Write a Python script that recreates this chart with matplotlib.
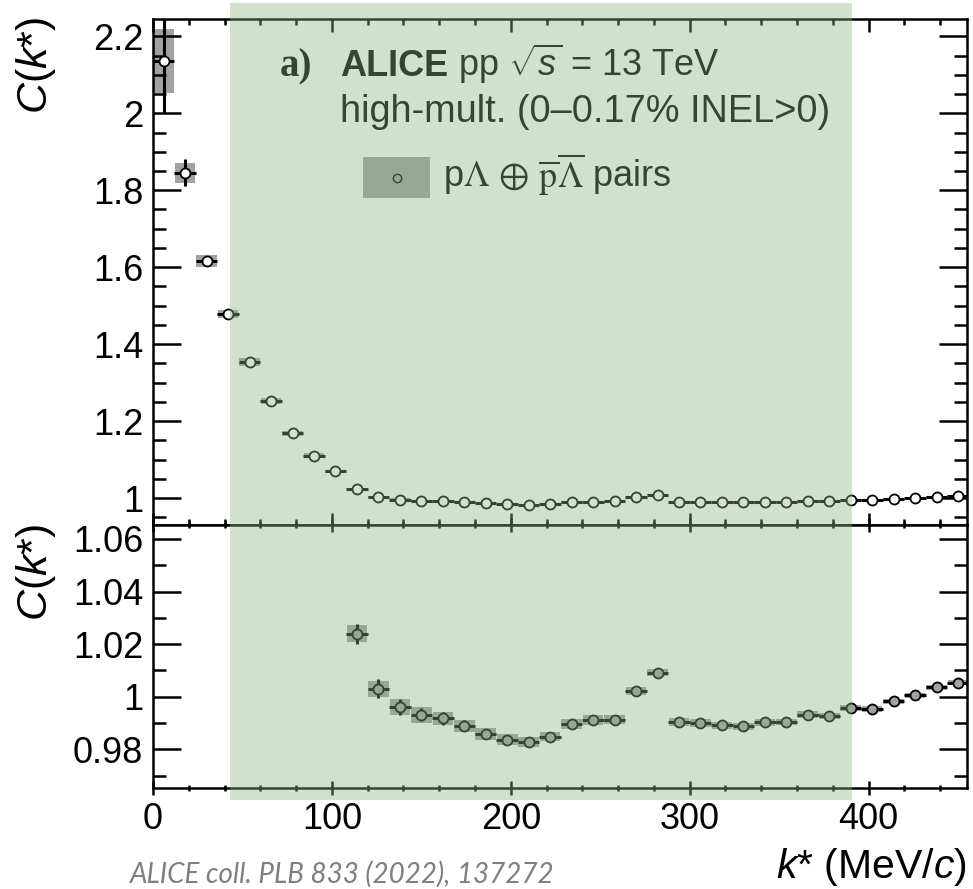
import numpy as np
import matplotlib
matplotlib.use("Agg")
import matplotlib.pyplot as plt
from matplotlib.patches import Rectangle
from matplotlib.lines import Line2D
from matplotlib.ticker import MultipleLocator, FuncFormatter

plt.rcParams['font.family'] = ['Liberation Sans', 'DejaVu Sans']
plt.rcParams['mathtext.fontset'] = 'custom'
plt.rcParams['mathtext.rm'] = 'Liberation Sans'
plt.rcParams['mathtext.it'] = 'Liberation Sans:italic'
plt.rcParams['mathtext.bf'] = 'Liberation Sans:bold'

# p-Lambda correlation function, 12 MeV/c bins
k_star = [6, 18, 30, 42, 54, 66, 78, 90, 102, 114, 126, 138, 150, 162, 174, 186,
          198, 210, 222, 234, 246, 258, 270, 282, 294, 306, 318, 330, 342, 354,
          366, 378, 390, 402, 414, 426, 438, 450]
cf = [2.135, 1.845, 1.615, 1.478, 1.354, 1.253, 1.168, 1.110, 1.070, 1.0239,
      1.0030, 0.9961, 0.9932, 0.9918, 0.9890, 0.9859, 0.9837, 0.9827, 0.9848,
      0.9898, 0.9910, 0.9913, 1.0021, 1.0092, 0.9905, 0.9900, 0.9891, 0.9888,
      0.9903, 0.9904, 0.9932, 0.9928, 0.9956, 0.9953, 0.9982, 1.0005, 1.0036,
      1.0054]
stat_err = [0.135, 0.035, 0.012, 0.008, 0.007, 0.005, 0.005, 0.005, 0.004,
            0.0039, 0.0036, 0.0030, 0.0026, 0.0024, 0.0020, 0.0019, 0.0017,
            0.0016, 0.0015, 0.0015, 0.0014, 0.0014, 0.0013, 0.0013, 0.0013,
            0.0012, 0.0012, 0.0012, 0.0012, 0.0012, 0.0011, 0.0011, 0.0011,
            0.0011, 0.0010, 0.0010, 0.0010, 0.0010]
syst_err = [0.083, 0.027, 0.0155, 0.011, 0.010, 0.008, 0.007, 0.006, 0.004,
            0.0032, 0.0031, 0.0032, 0.0030, 0.0025, 0.0023, 0.0022, 0.0020,
            0.0020, 0.0018, 0.0019, 0.0019, 0.0017, 0.0015, 0.0014, 0.0015,
            0.0014, 0.0014, 0.0013, 0.0013, 0.0013, 0.0012, 0.0012, 0.0011,
            0.0010, 0.0010, 0.0010, 0.0010, 0.0010]
bin_half = 6.0
top_ticks = [1.0, 1.2, 1.4, 1.6, 1.8, 2.0, 2.2]
bottom_ticks = [0.98, 1.00, 1.02, 1.04, 1.06]

BOX = '#a2a2a2'
W, H = 973, 889
fig = plt.figure(figsize=(W / 100, H / 100), dpi=100)


def fx(px):
    return px / W


def fy(py):
    return 1 - py / H


left, right = 153, 967
t_top, t_bot, b_bot = 19, 525, 788
ax_top = fig.add_axes([fx(left), fy(t_bot), (right - left) / W, (t_bot - t_top) / H])
ax_bot = fig.add_axes([fx(left), fy(b_bot), (right - left) / W, (b_bot - t_bot) / H])

cf_arr = np.array(cf)
syst_arr = np.array(syst_err)


def draw_points(ax, face):
    ax.bar(k_star, 2 * syst_arr, bottom=cf_arr - syst_arr, width=11.5,
           color=BOX, linewidth=0, zorder=1)
    ax.errorbar(k_star, cf, xerr=bin_half, yerr=stat_err, fmt='o', ms=7.2,
                mfc=face, mec='black', mew=1.3, ecolor='black',
                elinewidth=2.2, capsize=0, zorder=3)


draw_points(ax_top, 'white')
draw_points(ax_bot, BOX)

fmt = FuncFormatter(lambda v, p: f"{v:g}")
for ax in (ax_top, ax_bot):
    ax.set_xlim(0, 455)
    ax.xaxis.set_major_locator(MultipleLocator(100))
    ax.xaxis.set_minor_locator(MultipleLocator(20))
    ax.yaxis.set_major_formatter(fmt)
    for s in ax.spines.values():
        s.set_linewidth(1.8)
    ax.tick_params(axis='y', which='major', direction='in', length=20, width=1.8,
                   left=True, right=True, labelsize=26, pad=7)
    ax.tick_params(axis='y', which='minor', direction='in', length=9.5, width=1.8,
                   left=True, right=True)

ax_top.set_ylim(0.93, 2.245)
ax_top.set_yticks(top_ticks)
ax_top.yaxis.set_minor_locator(MultipleLocator(0.05))
ax_top.tick_params(axis='x', which='major', direction='in', length=9, width=1.8,
                   top=True, bottom=True, labelbottom=False)
ax_top.tick_params(axis='x', which='minor', direction='in', length=4, width=1.8,
                   top=True, bottom=True)

ax_bot.set_ylim(0.9653, 1.0653)
ax_bot.set_yticks(bottom_ticks)
ax_bot.yaxis.set_minor_locator(MultipleLocator(0.01))
ax_bot.tick_params(axis='x', which='major', direction='inout', length=9.5, width=1.8,
                   top=True, bottom=True, labelsize=26, pad=5)
ax_bot.tick_params(axis='x', which='minor', direction='inout', length=4.3, width=1.8,
                   top=True, bottom=True)

# axis titles
ax_top.text(-0.1437, 0.909, r"$C$($k$*)", transform=ax_top.transAxes, rotation=90,
            ha='center', va='center', fontsize=31)
ax_bot.text(-0.1437, 0.821, r"$C$($k$*)", transform=ax_bot.transAxes, rotation=90,
            ha='center', va='center', fontsize=31)
ax_bot.text(1.0, -0.3004, r"$k$* (MeV/$c$)", transform=ax_bot.transAxes,
            ha='right', va='center', fontsize=29.5)

# header text
fig.text(fx(280), fy(76), "a)", family='Liberation Serif', weight='bold',
         fontsize=28, va='baseline', ha='left')
fig.text(fx(340), fy(76), "ALICE", weight='bold', fontsize=26, va='baseline', ha='left')
fig.text(fx(458), fy(76), r"pp $\sqrt{s}$ = 13 TeV", fontsize=26,
         va='baseline', ha='left')
fig.text(fx(340), fy(122), "high-mult. (0\u20130.17% INEL>0)", fontsize=27.3,
         va='baseline', ha='left')

# legend entry
fig.patches.append(Rectangle((fx(363), fy(198)), (430 - 363) / W, (198 - 157) / H,
                             transform=fig.transFigure, facecolor=BOX,
                             linewidth=0, zorder=2))
fig.add_artist(Line2D([fx(396.5)], [fy(177.5)], marker='o', ms=6, mfc='none',
                      mec='black', mew=1.0, transform=fig.transFigure, zorder=3))
fig.text(fx(443), fy(188),
         r"p$\Lambda$ $\oplus$ $\overline{\mathrm{p}}\overline{\Lambda}$ pairs",
         fontsize=26, va='baseline', ha='left', math_fontfamily='stix')

# highlighted k* range
fig.patches.append(Rectangle((fx(230), fy(800)), (852 - 230) / W, (800 - 3) / H,
                             transform=fig.transFigure,
                             facecolor=(141 / 255, 179 / 255, 128 / 255),
                             alpha=0.39, linewidth=0, zorder=10))

fig.text(fx(130), fy(883), "ALICE coll. PLB 833 (2022), 137272", family='Lato',
         style='italic', color='#7f7f7f', fontsize=20, va='baseline', ha='left')

fig.savefig("out.png", dpi=100)
